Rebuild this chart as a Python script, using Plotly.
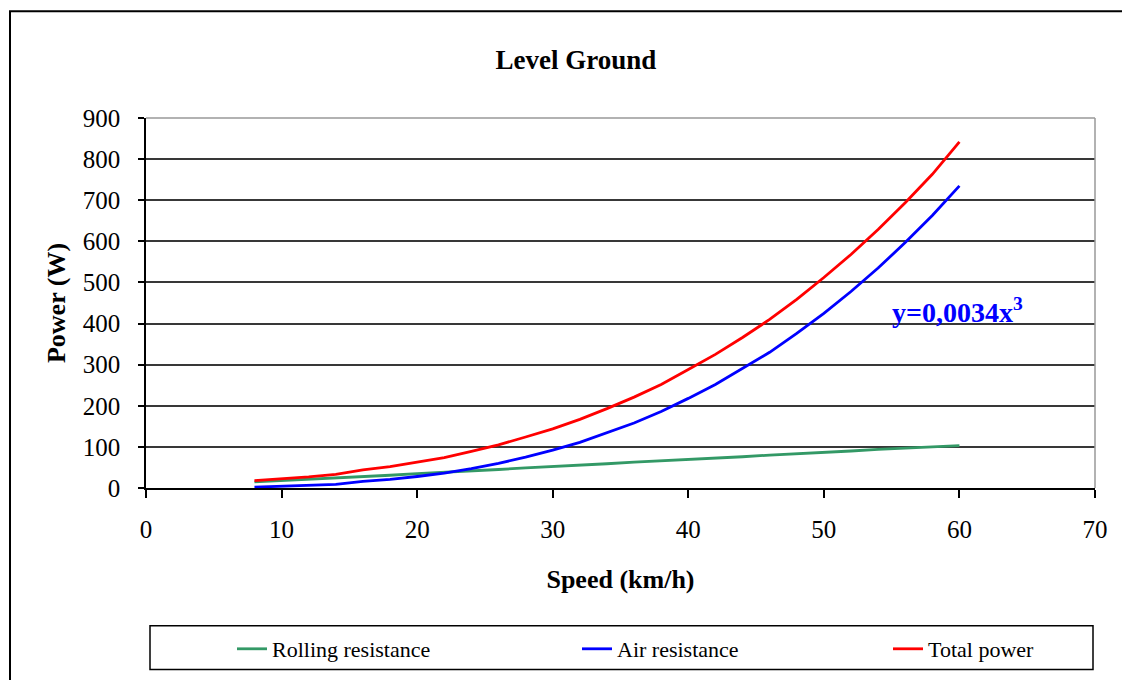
import plotly.graph_objects as go

speed = [8, 10, 12, 14, 16, 18, 20, 22, 24, 26, 28, 30, 32, 34, 36, 38, 40,
         42, 44, 46, 48, 50, 52, 54, 56, 58, 60]
rolling = [15, 18, 21, 24, 28, 31, 35, 38, 42, 45, 49, 52, 56, 59, 63, 66, 70,
           73, 76, 80, 83, 87, 90, 94, 97, 100, 103]
air = [2, 4, 6, 9, 16, 21, 28, 36, 47, 60, 75, 92, 111, 134, 158, 186, 218,
       252, 290, 330, 376, 425, 478, 535, 597, 663, 735]
total = [18, 22, 27, 33, 44, 52, 63, 74, 89, 105, 124, 144, 167, 193, 221, 252, 288,
         325, 366, 410, 459, 512, 568, 629, 694, 763, 842]

series_names = ['Rolling resistance', 'Air resistance', 'Total power']
series_colors = ['#339966', '#0000ff', '#ff0000']

SERIF = "Liberation Serif, Times New Roman, serif"
# page has an 8px body margin, so everything is laid out 8px up/left
O = 8
W, H = 1130 - O, 680 - O
L, R, T, B = 146 - O, 35, 118 - O, 680 - 489

def px_x(p):
    return (p - O - L) / (W - L - R)

def px_y(p):
    return (H - B - (p - O)) / (H - T - B)

fig = go.Figure()
legend_ids = ['legend', 'legend2', 'legend3']
for ys, name, color, lg in zip([rolling, air, total], series_names, series_colors, legend_ids):
    fig.add_trace(go.Scatter(x = speed, y = ys, mode = 'lines', name = name, legend = lg,
                             showlegend = True, line = dict(color = color, width = 2.8)))

shapes = [
    # outer chart frame
    dict(type = 'rect', xref = 'paper', yref = 'paper', x0 = px_x(10), x1 = px_x(1150),
         y0 = px_y(11), y1 = px_y(720), line = dict(color = 'black', width = 2), layer = 'below'),
    # top and right plot border
    dict(type = 'line', xref = 'paper', yref = 'paper', x0 = 0, x1 = 1, y0 = 1, y1 = 1,
         line = dict(color = '#999999', width = 1.5)),
    dict(type = 'line', xref = 'paper', yref = 'paper', x0 = 1, x1 = 1, y0 = 0, y1 = 1,
         line = dict(color = '#999999', width = 1.5)),
    # legend box
    dict(type = 'rect', xref = 'paper', yref = 'paper', x0 = px_x(150), x1 = px_x(1093),
         y0 = px_y(627), y1 = px_y(671), line = dict(color = 'black', width = 1.5)),
]

fig.add_annotation(text = "y=0,0034x<sup>3</sup>", x = 54.9, y = 432, xref = 'x', yref = 'y',
                   showarrow = False, xanchor = 'left',
                   font = dict(family = SERIF, size = 28, color = '#0000ff', weight = 'bold'))

legend_common = dict(orientation = 'h', xref = 'paper', yref = 'paper', xanchor = 'left',
                     y = px_y(649), yanchor = 'middle', bgcolor = 'rgba(0,0,0,0)',
                     visible = True,
                     font = dict(family = SERIF, size = 22, color = 'black'))

fig.update_layout(
    width = W, height = H,
    margin = dict(l = L, r = R, t = T, b = B),
    paper_bgcolor = 'white', plot_bgcolor = 'white',
    font = dict(family = SERIF, size = 25, color = 'black'),
    showlegend = True,
    title = dict(text = '<b>Level Ground</b>', x = (576 - O) / W, xanchor = 'center',
                 y = 1 - (60 - O) / H, yanchor = 'middle', font = dict(size = 27)),
    xaxis = dict(range = [0, 70], tickvals = [0, 10, 20, 30, 40, 50, 60, 70],
                 showgrid = False, zeroline = False, showline = True, linecolor = 'black',
                 linewidth = 1.5, ticks = 'outside', ticklen = 8, tickwidth = 1.5,
                 tickcolor = 'black', ticklabelstandoff = 10,
                 title = dict(text = '<b>Speed (km/h)</b>', standoff = 28, font = dict(size = 26))),
    yaxis = dict(range = [0, 900], dtick = 100, showgrid = True, gridcolor = '#383838',
                 gridwidth = 1.8, zeroline = False, showline = True, linecolor = 'black',
                 linewidth = 1.5, ticks = 'outside', ticklen = 6, tickwidth = 1.5,
                 tickcolor = 'black', ticklabelstandoff = 13,
                 title = dict(text = '<b>Power (W)</b>', standoff = 10, font = dict(size = 26))),
    legend = dict(x = px_x(232), **legend_common),
    legend2 = dict(x = px_x(577), **legend_common),
    legend3 = dict(x = px_x(888), **legend_common),
    shapes = shapes,
)

fig.write_html("out.html")
